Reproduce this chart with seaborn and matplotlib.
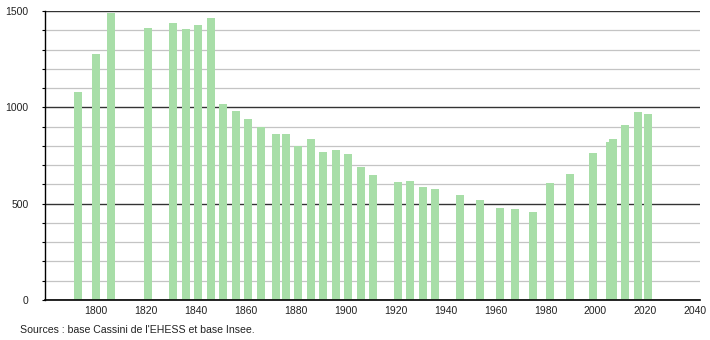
import matplotlib
matplotlib.use("Agg")
import matplotlib.pyplot as plt
import seaborn as sns
import pandas as pd
from matplotlib.ticker import MultipleLocator

years = [1793, 1800, 1806, 1821, 1831, 1836, 1841, 1846, 1851, 1856,
         1861, 1866, 1872, 1876, 1881, 1886, 1891, 1896, 1901, 1906,
         1911, 1921, 1926, 1931, 1936, 1946, 1954, 1962, 1968, 1975,
         1982, 1990, 1999, 2006, 2007, 2012, 2017, 2021]
population = [1078, 1275, 1490, 1410, 1438, 1407, 1425, 1464, 1017, 981,
              939, 900, 862, 860, 799, 836, 770, 779, 758, 692,
              649, 612, 619, 588, 576, 543, 521, 479, 472, 458,
              607, 654, 765, 822, 834, 910, 977, 965]
x_ticks = [1800, 1820, 1840, 1860, 1880, 1900, 1920, 1940, 1960, 1980, 2000, 2020, 2040]
y_ticks = [0, 500, 1000, 1500]
source_text = "Sources : base Cassini de l'EHESS et base Insee."

df = pd.DataFrame({"year": years, "population": population})

sns.set_style("white")
plt.rcParams["font.family"] = ["Liberation Sans", "DejaVu Sans"]

fig = plt.figure(figsize=(7.1, 3.4), dpi=100)
ax = fig.add_axes([0.063, 0.1176, 0.923, 0.85])

sns.barplot(data=df, x="year", y="population", native_scale=True, width=3.2,
            color="#a8dea8", saturation=1, edgecolor="none", linewidth=0, ax=ax)

ax.set_xlim(1779.6, 2041.9)
ax.set_ylim(0, 1500)
ax.set_xticks(x_ticks)
ax.set_xticklabels([str(t) for t in x_ticks])
ax.set_yticks(y_ticks)
ax.set_yticklabels([str(t) for t in y_ticks])
ax.yaxis.set_minor_locator(MultipleLocator(100))

ax.set_axisbelow(True)
ax.grid(axis="y", which="minor", color="#c4c4c4", linewidth=0.9)
ax.grid(axis="y", which="major", color="#333333", linewidth=1.0)
ax.grid(axis="x", visible=False)

for s in ["top", "right"]:
    ax.spines[s].set_visible(False)
ax.spines["left"].set_color("black")
ax.spines["left"].set_linewidth(1.0)
ax.spines["bottom"].set_color("black")
ax.spines["bottom"].set_linewidth(1.2)

ax.tick_params(axis="y", which="both", direction="out", length=2.5, width=0.8,
               color="black", labelsize=7.5, pad=9, left=True)
ax.tick_params(axis="x", which="both", length=0, labelsize=7.5, pad=4, colors="#222222")
ax.tick_params(axis="y", labelcolor="#222222")

ax.set_xlabel("")
ax.set_ylabel("")

fig.text(20 / 710, 1 - 330 / 340, source_text, fontsize=7.6, color="#222222",
         ha="left", va="center")

fig.savefig("out.png", dpi=100)
